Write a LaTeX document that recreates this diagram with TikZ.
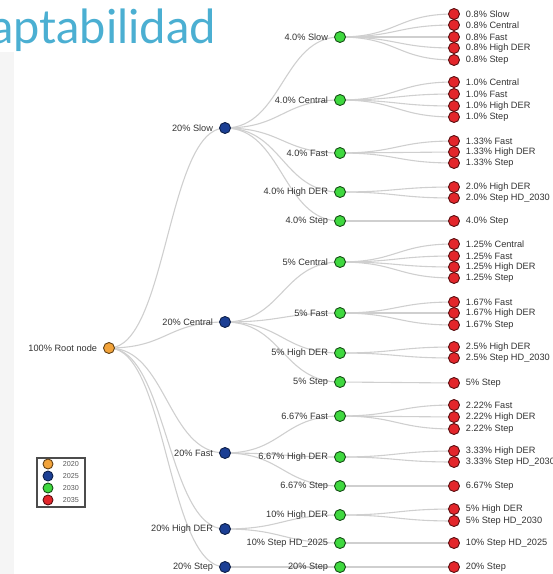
\documentclass[tikz,border=0pt]{standalone}
\usepackage{fontspec}
\setmainfont{Liberation Sans}
\newfontfamily\titlefont{Lato}
\usetikzlibrary{calc,backgrounds}
\definecolor{yr2020}{HTML}{F2A33A}
\definecolor{yr2025}{HTML}{1C3F94}
\definecolor{yr2030}{HTML}{3FD83F}
\definecolor{yr2035}{HTML}{E3262B}
\definecolor{titleblue}{HTML}{4BAFD2}
\begin{document}
\begin{tikzpicture}[x=1pt,y=-1pt,label distance=2.5pt,
    dot/.style = {circle, line width=0.9pt, minimum size=11pt, inner sep=0pt},
    n20/.style = {dot, fill=yr2020, draw=yr2020!40!black},
    n25/.style = {dot, fill=yr2025, draw=yr2025!50!black},
    n30/.style = {dot, fill=yr2030, draw=yr2030!35!black},
    n35/.style = {dot, fill=yr2035, draw=yr2035!40!black},
    lab/.style = {font=\fontsize{9.2}{10}\selectfont, text=black!80},
    link/.style = {draw=black!19, line width=1.1pt,
        to path={let \p1=(\tikztostart), \p2=(\tikztotarget) in
            .. controls ({(\x1+\x2)/2},\y1) and ({(\x1+\x2)/2},\y2) .. (\tikztotarget)}}]
    \useasboundingbox (0,0) rectangle (553,574);
    \fill[black!4] (0,52) rectangle (14,574);
    \node[anchor=base east, inner sep=0pt, text=titleblue,
          font=\titlefont\fontsize{47}{56}\selectfont] (title) at (216,43) {aptabilidad};
    % root and 2025
    \node[n20, label={[lab]left:100\% Root node}] (root) at (109,348) {};
    \node[n25, label={[lab]left:20\% Slow}] (slow) at (225,128) {};
    \node[n25, label={[lab]left:20\% Central}] (central) at (225,322) {};
    \node[n25, label={[lab]left:20\% Fast}] (fast) at (225,453) {};
    \node[n25, label={[lab]left:20\% High DER}] (highder) at (225,529) {};
    \node[n25, label={[lab]left:20\% Step}] (step) at (225,567) {};
    % 2030
    \node[n30, label={[lab]left:4.0\% Slow}] (sSlow) at (340,37) {};
    \node[n30, label={[lab]left:4.0\% Central}] (sCentral) at (340,100) {};
    \node[n30, label={[lab]left:4.0\% Fast}] (sFast) at (340,153) {};
    \node[n30, label={[lab]left:4.0\% High DER}] (sHigh) at (340,192) {};
    \node[n30, label={[lab]left:4.0\% Step}] (sStep) at (340,221) {};
    \node[n30, label={[lab]left:5\% Central}] (cCentral) at (340,262) {};
    \node[n30, label={[lab]left:5\% Fast}] (cFast) at (340,313) {};
    \node[n30, label={[lab]left:5\% High DER}] (cHigh) at (340,353) {};
    \node[n30, label={[lab]left:5\% Step}] (cStep) at (340,382) {};
    \node[n30, label={[lab]left:6.67\% Fast}] (fFast) at (340,416) {};
    \node[n30, label={[lab]left:6.67\% High DER}] (fHigh) at (340,457) {};
    \node[n30, label={[lab]left:6.67\% Step}] (fStep) at (340,486) {};
    \node[n30, label={[lab]left:10\% High DER}] (hHigh) at (340,515) {};
    \node[n30, label={[lab]left:10\% Step HD\_2025}] (hStep) at (340,543) {};
    \node[n30, label={[lab]left:20\% Step}] (tStep) at (340,567) {};
    % 2035 leaves, each with its link
    \foreach \up/\row/\t in {sSlow/14/0.8\% Slow, sSlow/25/0.8\% Central, sSlow/37/0.8\% Fast,
            sSlow/48/0.8\% High DER, sSlow/60/0.8\% Step,
            sCentral/82/1.0\% Central, sCentral/94/1.0\% Fast, sCentral/106/1.0\% High DER,
            sCentral/117/1.0\% Step,
            sFast/141/1.33\% Fast, sFast/152/1.33\% High DER, sFast/163/1.33\% Step,
            sHigh/187/2.0\% High DER, sHigh/198/2.0\% Step HD\_2030,
            sStep/221/4.0\% Step,
            cCentral/244/1.25\% Central, cCentral/256/1.25\% Fast, cCentral/267/1.25\% High DER,
            cCentral/278/1.25\% Step,
            cFast/302/1.67\% Fast, cFast/313/1.67\% High DER, cFast/325/1.67\% Step,
            cHigh/347/2.5\% High DER, cHigh/358/2.5\% Step HD\_2030,
            cStep/383/5\% Step,
            fFast/405/2.22\% Fast, fFast/417/2.22\% High DER, fFast/429/2.22\% Step,
            fHigh/451/3.33\% High DER, fHigh/462/3.33\% Step HD\_2030,
            fStep/486/6.67\% Step,
            hHigh/509/5\% High DER, hHigh/521/5\% Step HD\_2030,
            hStep/543/10\% Step HD\_2025,
            tStep/567/20\% Step} {
        \node[n35, label={[lab]right:\t}] (\up-\row) at (454,\row) {};
        \begin{pgfonlayer}{background}
            \draw[link] (\up.center) to (\up-\row.center);
        \end{pgfonlayer}
    }
    \begin{scope}[on background layer]
        \foreach \a/\b in {root/slow, root/central, root/fast, root/highder, root/step,
                slow/sSlow, slow/sCentral, slow/sFast, slow/sHigh, slow/sStep,
                central/cCentral, central/cFast, central/cHigh, central/cStep,
                fast/fFast, fast/fHigh, fast/fStep, highder/hHigh, highder/hStep, step/tStep}
            \draw[link] (\a.center) to (\b.center);
    \end{scope}
    % legend
    \node[draw=black!70, line width=1.2pt, minimum width=48pt, minimum height=49pt] (legend) at (61,482.5) {};
    \foreach \c/\row/\yr in {n20/464/2020, n25/476/2025, n30/488/2030, n35/500/2035}
        \node[\c, minimum size=10pt, label={[font=\fontsize{7.2}{8}\selectfont, text=black!65, label distance=6pt]right:\yr}] (key\yr) at (48,\row) {};
\end{tikzpicture}
\end{document}
